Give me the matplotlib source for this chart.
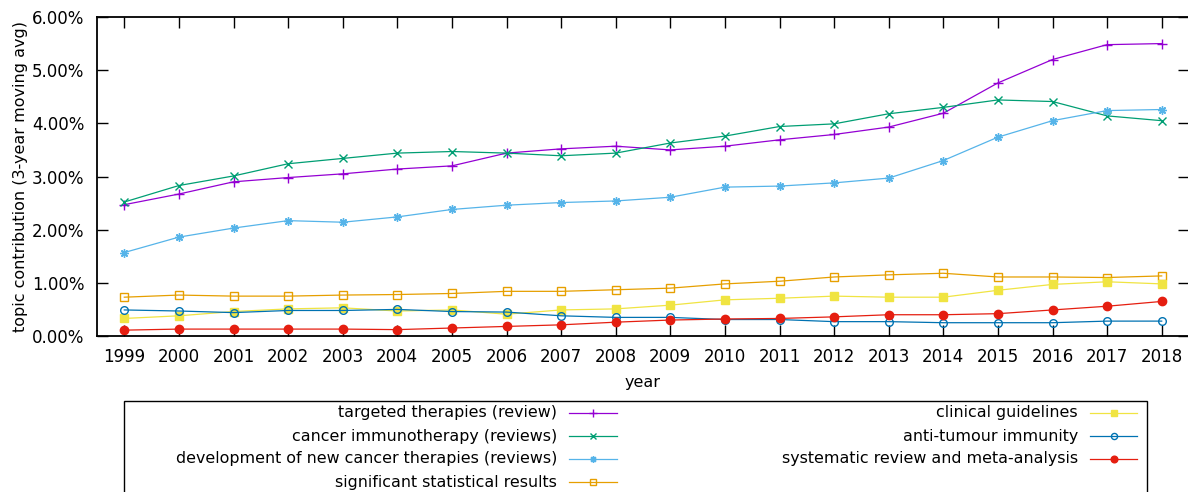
import numpy as np
import matplotlib
matplotlib.use('Agg')
import matplotlib.pyplot as plt
from matplotlib.lines import Line2D
from matplotlib.patches import Rectangle
from matplotlib.ticker import FuncFormatter

years = list(range(1999, 2019))

targeted = [2.47, 2.67, 2.90, 2.98, 3.05, 3.14, 3.20, 3.44, 3.52, 3.57,
            3.50, 3.57, 3.69, 3.79, 3.93, 4.19, 4.76, 5.20, 5.48, 5.50]
immuno = [2.52, 2.83, 3.01, 3.24, 3.34, 3.44, 3.47, 3.44, 3.39, 3.44,
          3.63, 3.76, 3.94, 3.99, 4.18, 4.30, 4.44, 4.41, 4.14, 4.05]
development = [1.57, 1.86, 2.03, 2.17, 2.14, 2.24, 2.38, 2.46, 2.51, 2.54,
               2.61, 2.80, 2.82, 2.88, 2.97, 3.30, 3.74, 4.05, 4.24, 4.26]
significant = [0.73, 0.77, 0.75, 0.75, 0.77, 0.78, 0.80, 0.84, 0.84, 0.87,
               0.90, 0.98, 1.03, 1.11, 1.15, 1.18, 1.11, 1.11, 1.10, 1.13]
guidelines = [0.33, 0.38, 0.46, 0.51, 0.53, 0.47, 0.49, 0.41, 0.49, 0.51,
              0.58, 0.68, 0.71, 0.75, 0.73, 0.73, 0.86, 0.97, 1.02, 0.98]
antitumour = [0.49, 0.47, 0.44, 0.48, 0.48, 0.50, 0.46, 0.45, 0.38, 0.35,
              0.35, 0.31, 0.31, 0.27, 0.27, 0.25, 0.25, 0.25, 0.28, 0.28]
systematic = [0.11, 0.13, 0.13, 0.13, 0.13, 0.12, 0.15, 0.18, 0.21, 0.26,
              0.30, 0.32, 0.33, 0.36, 0.40, 0.40, 0.42, 0.49, 0.56, 0.65]

labels = ['targeted therapies (review)', 'cancer immunotherapy (reviews)',
          'development of new cancer therapies (reviews)', 'significant statistical results',
          'clinical guidelines', 'anti-tumour immunity', 'systematic review and meta-analysis']
values = [targeted, immuno, development, significant, guidelines, antitumour, systematic]
colors = ['#9400d3', '#009e73', '#56b4e9', '#e69f00', '#f0e442', '#0072b2', '#e51e10']
markers = ['+', 'x', (8, 2, 0), 's', 's', 'o', 'o']
filled = [False, False, False, False, True, False, True]
msizes = [6.5, 6, 6, 5.5, 5.5, 5.5, 6]

plt.rcParams['font.family'] = ['DejaVu Sans']
plt.rcParams['font.size'] = 12

W, H = 1188, 492
fig = plt.figure(figsize=(W / 100, H / 100), dpi=100)
ax = fig.add_axes([97 / W, (H - 336) / H, 1092 / W, 319 / H])

styles = []
for vals, color, marker, fill, ms in zip(values, colors, markers, filled, msizes):
    kw = dict(color=color, marker=marker, ms=ms, mew=1.0,
              mfc=color if fill else 'none')
    ax.plot(years, vals, lw=0.9, **kw)
    styles.append(kw)

ax.set_xlim(1998.5, 2018.5)
ax.set_ylim(0, 6)
ax.set_xticks(years)
ax.set_yticks(np.arange(0, 7, 1))
ax.yaxis.set_major_formatter(FuncFormatter(lambda v, p: f'{v:.2f}%'))
ax.tick_params(direction='in', length=8, width=1.0, top=True, right=True, pad=9,
               labelsize=12, colors='black')
for s in ax.spines.values():
    s.set_linewidth(1.3)
ax.set_xlabel('year', fontsize=11.5, labelpad=6)
ax.set_ylabel('topic contribution (3-year moving avg)', fontsize=11.5, labelpad=3)

# legend box in figure pixel coordinates (runs off the bottom edge)
tr = fig.transFigure
box = Rectangle((124 / W, -0.1), (1147 - 124) / W, (H - 401) / H + 0.1,
                transform=tr, fill=False, lw=1.0, ec='black', clip_on=False)
fig.patches.append(box)

cols = [(557, 569, 617), (1078, 1090, 1137)]
rows = [413, 436, 459, 482]
for i, (label, kw) in enumerate(zip(labels, styles)):
    c = 0 if i < 4 else 1
    r = i if i < 4 else i - 4
    tx, x0, x1 = cols[c]
    y = (H - rows[r]) / H
    fig.text(tx / W, y, label, ha='right', va='center', fontsize=11.4)
    fig.add_artist(Line2D([x0 / W, x1 / W], [y, y], transform=tr,
                          color=kw['color'], lw=0.9))
    small = dict(kw)
    small['ms'] = kw['ms'] * 0.8
    fig.add_artist(Line2D([(x0 + x1) / 2 / W], [y], transform=tr, ls='none', **small))

fig.savefig('out.png', dpi=100)
